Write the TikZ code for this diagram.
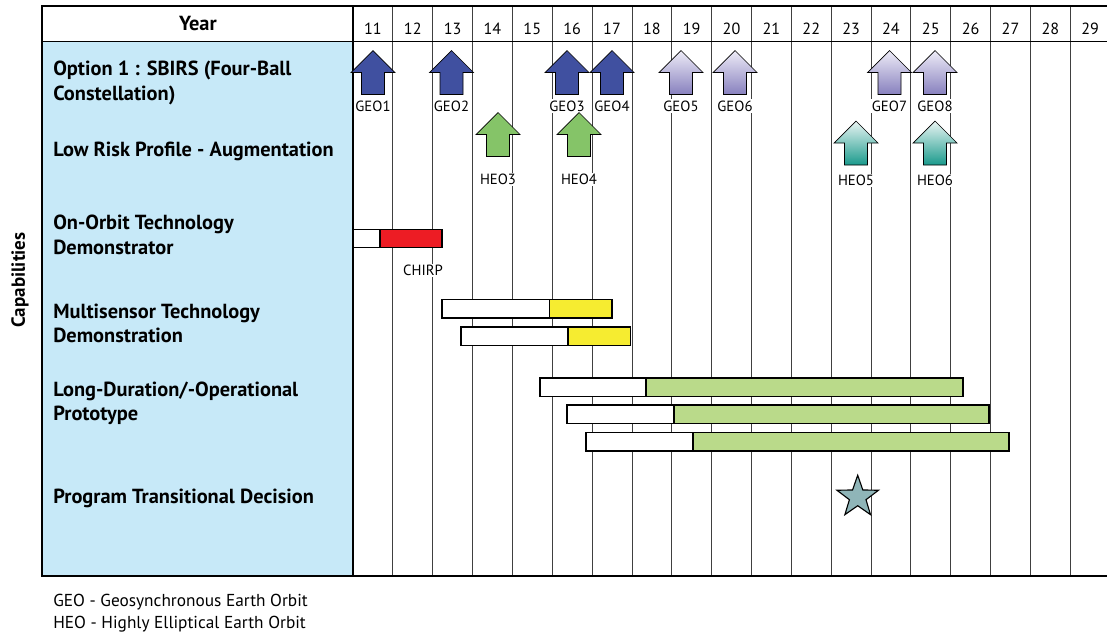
\documentclass[tikz,border=0pt]{standalone}
\usepackage{fontspec}
\setmainfont{PT Sans}
\usetikzlibrary{shapes.geometric, positioning, calc}

\definecolor{panelblue}{RGB}{199,233,248}
\definecolor{geoblue}{RGB}{64,80,160}
\definecolor{lavtop}{RGB}{238,236,247}
\definecolor{lavbot}{RGB}{135,128,190}
\definecolor{heogreen}{RGB}{133,196,104}
\definecolor{tealtop}{RGB}{234,245,243}
\definecolor{tealbot}{RGB}{26,154,140}
\definecolor{chirpred}{RGB}{237,28,36}
\definecolor{msyellow}{RGB}{246,236,48}
\definecolor{protogreen}{RGB}{186,218,138}
\definecolor{starteal}{RGB}{143,181,184}

% block arrow pointing up: centre x, tip y, style
\newcommand{\blockarrow}[3]{%
  \path[#3] (#1,#2) -- ++(22,22) -- ++(-10.5,0) -- ++(0,22) -- ++(-23,0) -- ++(0,-22) -- ++(-10.5,0) -- cycle;}

\begin{document}
\begin{tikzpicture}[x=0.025cm, y=-0.025cm,
    gridline/.style={black!75, line width=0.6pt},
    frame/.style={black, line width=1.1pt},
    rowlabel/.style={anchor=base west, align=left, inner sep=0pt, font=\bfseries\fontsize{14.5}{17.1}\selectfont},
    yearlabel/.style={anchor=base, inner sep=0pt, font=\fontsize{11.5}{13}\selectfont},
    tag/.style={anchor=base, fill=white, inner sep=1pt, font=\fontsize{10.5}{12}\selectfont},
    note/.style={anchor=base west, inner sep=0pt, font=\fontsize{12.3}{15}\selectfont},
    bar/.style={draw=black, line width=0.9pt, fill=white},
    geoold/.style={draw=black, line width=0.5pt, fill=geoblue},
    geonew/.style={draw=black, line width=0.5pt, top color=lavtop, bottom color=lavbot},
    heoold/.style={draw=black, line width=0.5pt, fill=heogreen},
    heonew/.style={draw=black, line width=0.5pt, top color=tealtop, bottom color=tealbot}]

\useasboundingbox (0,0) rectangle (1107,634);

% table
\fill[panelblue] (42,41.5) rectangle (353,576);
\foreach \i in {1,...,18}
  \draw[gridline] ({353+\i*39.85},6) -- ({353+\i*39.85},576);
\draw[frame] (1107,6) -- (42,6) -- (42,576) -- (1107,576);
\draw[frame] (42,41.5) -- (1107,41.5);
\draw[frame] (353,6) -- (353,576);

\node[rowlabel, anchor=base] (year) at (198,30) {Year};
\foreach \yr [count=\i from 0] in {11,...,29}
  \node[yearlabel] (y\yr) at ({372.9+\i*39.85},34) {\yr};
\node[rotate=90, anchor=base, inner sep=0pt, font=\bfseries\fontsize{13.5}{15}\selectfont] (capab) at (25,280) {Capabilities};

% row labels (anchored on the last line)
\node[rowlabel] (sbirs) at (53,100) {Option 1 : SBIRS (Four-Ball\\Constellation)};
\node[rowlabel] (lowrisk) at (53,156) {Low Risk Profile - Augmentation};
\node[rowlabel] (onorbit) at (53,254) {On-Orbit Technology\\Demonstrator};
\node[rowlabel] (multisens) at (53,342.3) {Multisensor Technology\\Demonstration};
\node[rowlabel] (longdur) at (53,420.7) {Long-Duration/-Operational\\Prototype};
\node[rowlabel] (transit) at (53,503.3) {Program Transitional Decision};

% GEO launches
\foreach \cx/\nm in {373/1, 451.5/2, 567/3, 612/4} {
  \blockarrow{\cx}{50.5}{geoold}
  \node[tag] (geo\nm) at (\cx,111) {GEO\nm};
}
\foreach \cx/\nm in {681/5, 735/6, 889.5/7, 935/8} {
  \blockarrow{\cx}{50.5}{geonew}
  \node[tag] (geo\nm) at (\cx,111) {GEO\nm};
}

% HEO launches
\foreach \cx/\nm in {498/3, 579/4} {
  \blockarrow{\cx}{112.5}{heoold}
  \node[tag] (heo\nm) at (\cx,184.5) {HEO\nm};
}
\foreach \cx/\nm in {856/5, 935/6} {
  \blockarrow{\cx}{121}{heonew}
  \node[tag] (heo\nm) at (\cx,185.5) {HEO\nm};
}

% demonstrators
\draw[bar] (353,229.5) rectangle (380,247.5);
\draw[bar, fill=chirpred] (380,229.5) rectangle (442,247.5);
\node[tag] (chirp) at (423,275.7) {CHIRP};

\foreach \a/\b/\c/\t in {442/549.5/612/299.5, 461/568/630.5/327} {
  \draw[bar] (\a,\t) rectangle (\b,{\t+18.5});
  \draw[bar, fill=msyellow] (\b,\t) rectangle (\c,{\t+18.5});
}

% prototypes
\foreach \a/\b/\c/\t in {540/646/963/378, 567/674/989/405, 586/693/1009/432.5} {
  \draw[bar] (\a,\t) rectangle (\b,{\t+18.5});
  \draw[bar, fill=protogreen] (\b,\t) rectangle (\c,{\t+18.5});
}

\node[star, star points=5, star point ratio=2.5, draw=black, line width=0.8pt, fill=starteal, minimum size=31pt, inner sep=0pt] (decision) at (857.7,497) {};

% legend
\node[note] (geonote) at (53,606) {GEO - Geosynchronous Earth Orbit};
\node[note] (heonote) at (53,628.3) {HEO - Highly Elliptical Earth Orbit};
\end{tikzpicture}
\end{document}
